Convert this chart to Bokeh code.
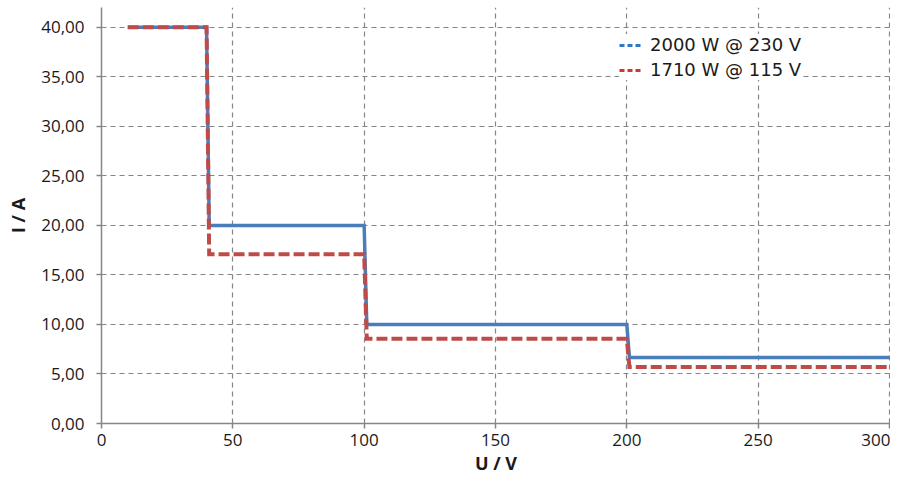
from bokeh.plotting import figure
from bokeh.models import Range1d, FixedTicker, CustomJSTickFormatter, Legend, LegendItem, ColumnDataSource
from bokeh.embed import file_html
from bokeh.resources import INLINE

# Data
u_2000 = [10, 40, 41, 100, 101, 200, 201, 300]
i_2000 = [40.0, 40.0, 20.0, 20.0, 10.0, 10.0, 6.67, 6.67]
u_1710 = [10, 40, 41, 100, 101, 200, 201, 300]
i_1710 = [40.0, 40.0, 17.1, 17.1, 8.55, 8.55, 5.7, 5.7]
labels = ["2000 W @ 230 V", "1710 W @ 115 V"]
x_ticks = [0, 50, 100, 150, 200, 250, 300]
y_ticks = [0, 5, 10, 15, 20, 25, 30, 35, 40]

BLUE = "#4a7ebb"
RED = "#be4b48"
GRID = "#858585"
AXIS = "#868686"

p = figure(width=890, height=477, output_backend="svg", toolbar_location=None,
           x_range=Range1d(0, 300.4), y_range=Range1d(0, 42.0),
           min_border_left=101, min_border_right=0, min_border_top=7, min_border_bottom=54)
p.outline_line_color = None
p.background_fill_color = "white"
p.border_fill_color = "white"

p.line(u_2000, i_2000, line_color=BLUE, line_width=3.5, line_join="miter")
p.line(u_1710, i_1710, line_color=RED, line_width=4, line_dash="11 4", line_join="miter")

# legend-only renderers (short dashed glyphs), kept outside the visible range
src1 = ColumnDataSource(data=dict(x=[-50, -40], y=[-50, -50]))
src2 = ColumnDataSource(data=dict(x=[-50, -40], y=[-50, -50]))
r1 = p.line("x", "y", source=src1, line_color="#2f78c8", line_width=3, line_dash="5 3")
r2 = p.line("x", "y", source=src2, line_color="#d43434", line_width=3, line_dash="5 3")

legend = Legend(items=[LegendItem(label=labels[0], renderers=[r1]),
                       LegendItem(label=labels[1], renderers=[r2])],
                location=(518, 343))
legend.label_text_font = "DejaVu Sans"
legend.label_text_font_size = "18px"
legend.label_text_color = "#1a1a1a"
legend.glyph_width = 24
legend.glyph_height = 20
legend.label_height = 20
legend.label_standoff = 7
legend.spacing = 4
legend.padding = 6
legend.margin = 0
legend.border_line_color = None
legend.background_fill_color = "white"
legend.background_fill_alpha = 1.0
p.add_layout(legend, "center")

for g in (p.xgrid[0], p.ygrid[0]):
    g.grid_line_color = GRID
    g.grid_line_dash = "5 4"
    g.grid_line_width = 1.2

p.xaxis.ticker = FixedTicker(ticks=x_ticks)
p.yaxis.ticker = FixedTicker(ticks=y_ticks)
p.yaxis.formatter = CustomJSTickFormatter(code="return tick.toFixed(2).replace('.', ',');")
p.xaxis.formatter = CustomJSTickFormatter(code="return tick.toFixed(0);")

for ax in (p.xaxis[0], p.yaxis[0]):
    ax.axis_line_color = AXIS
    ax.axis_line_width = 1.5
    ax.major_tick_line_color = AXIS
    ax.major_tick_line_width = 1.5
    ax.major_tick_out = 5
    ax.major_tick_in = 0
    ax.minor_tick_line_color = None
    ax.major_label_text_font = "Open Sans"
    ax.major_label_text_font_size = "17px"
    ax.major_label_text_color = "#1a1a1a"
    ax.axis_label_text_font = "Open Sans"
    ax.axis_label_text_font_size = "18px"
    ax.axis_label_text_font_style = "bold"
    ax.axis_label_text_color = "#1a1a1a"

p.xaxis.axis_label = "U / V"
p.yaxis.axis_label = "I / A"
p.xaxis.major_label_standoff = 5
p.yaxis.major_label_standoff = 12
p.xaxis.axis_label_standoff = 2
p.yaxis.axis_label_standoff = 8

open("out.html", "w").write(file_html(p, INLINE))
